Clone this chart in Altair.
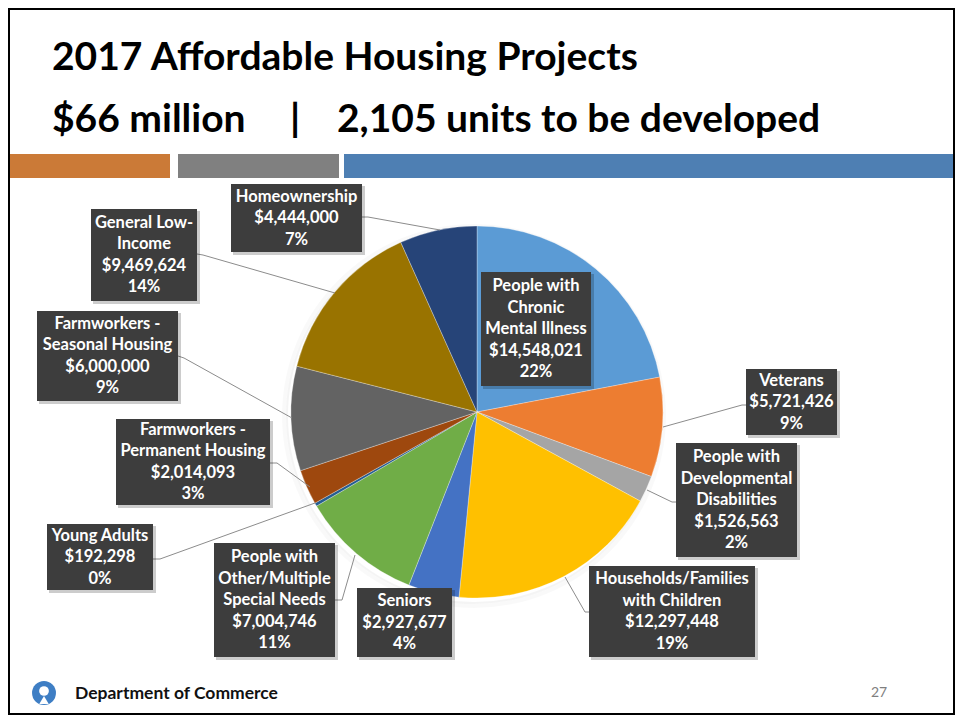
import math
import altair as alt
import pandas as pd

# ---------------- data ----------------
categories = [
    "People with Chronic Mental Illness", "Veterans",
    "People with Developmental Disabilities", "Households/Families with Children",
    "Seniors", "People with Other/Multiple Special Needs", "Young Adults",
    "Farmworkers - Permanent Housing", "Farmworkers - Seasonal Housing",
    "General Low-Income", "Homeownership",
]
values = [14548021, 5721426, 1526563, 12297448, 2927677, 7004746,
          192298, 2014093, 6000000, 9469624, 4444000]
name_lines = [
    ["People with", "Chronic", "Mental Illness"],
    ["Veterans"],
    ["People with", "Developmental", "Disabilities"],
    ["Households/Families", "with Children"],
    ["Seniors"],
    ["People with", "Other/Multiple", "Special Needs"],
    ["Young Adults"],
    ["Farmworkers -", "Permanent Housing"],
    ["Farmworkers -", "Seasonal Housing"],
    ["General Low-", "Income"],
    ["Homeownership"],
]
title1 = "2017 Affordable Housing Projects"
title2_parts = ["$66 million", "|", "2,105 units to be developed"]
footer_text = "Department of Commerce"
page_no = "27"

# ---------------- styles / layout ----------------
colors = ["#5B9BD5", "#ED7D31", "#A5A5A5", "#FFC000", "#4472C4", "#70AD47",
          "#255E91", "#9E480E", "#636363", "#997300", "#264478"]
FONT = "Lato"
W, H = 947, 707            # page coords 8..955, 8..715
PIE_CX, PIE_CY, PIE_R = 477, 412, 186

# label boxes (x1, y1, x2, y2) in page pixels
boxes = [
    (481, 272, 591, 386), (746, 369, 837, 435), (676, 443, 797, 557),
    (589, 566, 755, 657), (357, 588, 452, 657), (214, 543, 335, 657),
    (47, 524, 153, 590), (116, 419, 270, 505), (37, 311, 178, 401),
    (91, 209, 197, 301), (231, 184, 362, 252),
]
leaders = [
    None,
    [(746, 405), (742, 405), (663, 427)],
    [(676, 502), (672, 502), (647, 490)],
    [(589, 612), (585, 612), (565, 577)],
    None,
    [(335, 600), (342, 600), (355, 555)],
    [(153, 559), (160, 559), (315, 503)],
    [(270, 463), (277, 463), (310, 487)],
    [(178, 356), (184, 358), (292, 418)],
    [(197, 254), (203, 255), (335, 293)],
    [(362, 217), (368, 217), (440, 230)],
]
bars = [(10, 170, "#CB7A37"), (178, 339, "#808080"), (344, 955, "#4E7FB3")]

total = sum(values)
xs = alt.Scale(domain=[8, 8 + W], nice=False, zero=False)
ys = alt.Scale(domain=[8 + H, 8], nice=False, zero=False)

def X(f):
    return alt.X(f, type="quantitative", scale=xs, axis=None)

def Y(f):
    return alt.Y(f, type="quantitative", scale=ys, axis=None)

# pie
pie_df = pd.DataFrame({"cat": categories, "value": values, "idx": range(len(values))})
shadow = alt.Chart(pd.DataFrame({"k": [0, 1, 2]})).mark_arc(
    theta=0, theta2=2 * math.pi, color="#000000"
).encode(
    x=alt.value(PIE_CX - 8 - 3), y=alt.value(PIE_CY - 8 + 4),
    radius=alt.Radius("k:Q", scale=alt.Scale(domain=[0, 2], range=[PIE_R, PIE_R + 4], zero=False)),
    opacity=alt.Opacity("k:Q", scale=alt.Scale(domain=[0, 2], range=[0.06, 0.025]), legend=None),
)
pie = alt.Chart(pie_df).mark_arc(radius=PIE_R, stroke="#ffffff", strokeWidth=0.3).encode(
    theta=alt.Theta("value:Q", stack=True),
    order=alt.Order("idx:Q"),
    color=alt.Color("cat:N", scale=alt.Scale(domain=categories, range=colors), legend=None),
    x=alt.value(PIE_CX - 8), y=alt.value(PIE_CY - 8),
)

# boxes
box_df = pd.DataFrame([{"x1": b[0], "y1": b[1], "x2": b[2], "y2": b[3]} for b in boxes])
box_df["sx1"] = box_df.x1 + 2
box_df["sy1"] = box_df.y1 + 2
box_df["sx2"] = box_df.x2 + 3
box_df["sy2"] = box_df.y2 + 3
box_shadow = alt.Chart(box_df).mark_rect(color="#000000", opacity=0.2).encode(
    x=X("sx1"), x2=alt.X2("sx2"), y=Y("sy1"), y2=alt.Y2("sy2"))
box_rect = alt.Chart(box_df).mark_rect(color="#3D3D3D").encode(
    x=X("x1"), x2=alt.X2("x2"), y=Y("y1"), y2=alt.Y2("y2"))

# box text
LH = 21.5
rows = []
for i, v in enumerate(values):
    lines = name_lines[i] + [f"${v:,}", f"{round(v / total * 100)}%"]
    x1, y1, x2, y2 = boxes[i]
    cx, cy = (x1 + x2) / 2, (y1 + y2) / 2
    n = len(lines)
    for j, t in enumerate(lines):
        rows.append({"x": cx, "y": cy + (j - (n - 1) / 2) * LH, "t": t})
txt_df = pd.DataFrame(rows)
box_text = alt.Chart(txt_df).mark_text(
    font=FONT, fontWeight="bold", fontSize=16.5, color="#FFFFFF", baseline="middle", align="center"
).encode(x=X("x"), y=Y("y"), text="t:N")

# leader lines
lrows = []
for i, pts in enumerate(leaders):
    if pts:
        for k, (px, py) in enumerate(pts):
            lrows.append({"g": i, "k": k, "x": px, "y": py})
lead_df = pd.DataFrame(lrows)
lead = alt.Chart(lead_df).mark_line(color="#8C8C8C", strokeWidth=1).encode(
    x=X("x"), y=Y("y"), detail="g:N", order="k:Q")

# header bars
bar_df = pd.DataFrame([{"x1": a, "x2": b, "y1": 154, "y2": 178, "c": c} for a, b, c in bars])
bar_layer = alt.Chart(bar_df).mark_rect().encode(
    x=X("x1"), x2=alt.X2("x2"), y=Y("y1"), y2=alt.Y2("y2"), color=alt.Color("c:N", scale=None))

# titles
title_df = pd.DataFrame({
    "x": [52, 52, 295, 337],
    "y": [69.5, 131.5, 131.5, 131.5],
    "t": [title1] + title2_parts,
    "a": ["left", "left", "center", "left"],
})
titles_left = alt.Chart(title_df[title_df.a == "left"]).mark_text(
    font=FONT, fontWeight="bold", fontSize=39, color="#000000", align="left", baseline="alphabetic"
).encode(x=X("x"), y=Y("y"), text="t:N")
titles_mid = alt.Chart(title_df[title_df.a == "center"]).mark_text(
    font=FONT, fontWeight="bold", fontSize=39, color="#000000", align="center", baseline="alphabetic"
).encode(x=X("x"), y=Y("y"), text="t:N")

# footer
foot_df = pd.DataFrame({"x": [75], "y": [699], "t": [footer_text]})
footer = alt.Chart(foot_df).mark_text(
    font=FONT, fontWeight="bold", fontSize=17.5, color="#111111", align="left", baseline="alphabetic"
).encode(x=X("x"), y=Y("y"), text="t:N")
page_df = pd.DataFrame({"x": [879], "y": [693], "t": [page_no]})
page = alt.Chart(page_df).mark_text(
    font=FONT, fontSize=14, color="#7F7F7F", align="center", baseline="middle"
).encode(x=X("x"), y=Y("y"), text="t:N")

logo_df = pd.DataFrame({"x": [44], "y": [693]})
logo = alt.Chart(logo_df).mark_point(filled=True, shape="circle", size=math.pi * 13.5 ** 2,
                                     color="#3E7EC4", opacity=1).encode(x=X("x"), y=Y("y"))
head_df = pd.DataFrame({"x": [44], "y": [691]})
head = alt.Chart(head_df).mark_point(filled=True, shape="circle", size=math.pi * 5.5 ** 2,
                                     color="#FFFFFF", opacity=1).encode(x=X("x"), y=Y("y"))
body_df = pd.DataFrame({"x": [44], "y": [700]})
body = alt.Chart(body_df).mark_point(filled=True, shape="triangle-up", size=90,
                                     color="#FFFFFF", opacity=1).encode(x=X("x"), y=Y("y"))

# slide border
border_df = pd.DataFrame({"x1": [9], "x2": [954], "y1": [9], "y2": [714]})
border = alt.Chart(border_df).mark_rect(fill="transparent", stroke="#000000", strokeWidth=2).encode(
    x=X("x1"), x2=alt.X2("x2"), y=Y("y1"), y2=alt.Y2("y2"))

chart = alt.layer(
    bar_layer, titles_left, titles_mid, shadow, pie, lead, box_shadow, box_rect, box_text,
    logo, head, body, footer, page, border,
).properties(
    width=W, height=H, padding=0, autosize=alt.AutoSizeParams(type="none"), background="#FFFFFF"
).configure_view(stroke=None)

chart.save("out.html", embed_options={"renderer": "svg", "actions": False})
